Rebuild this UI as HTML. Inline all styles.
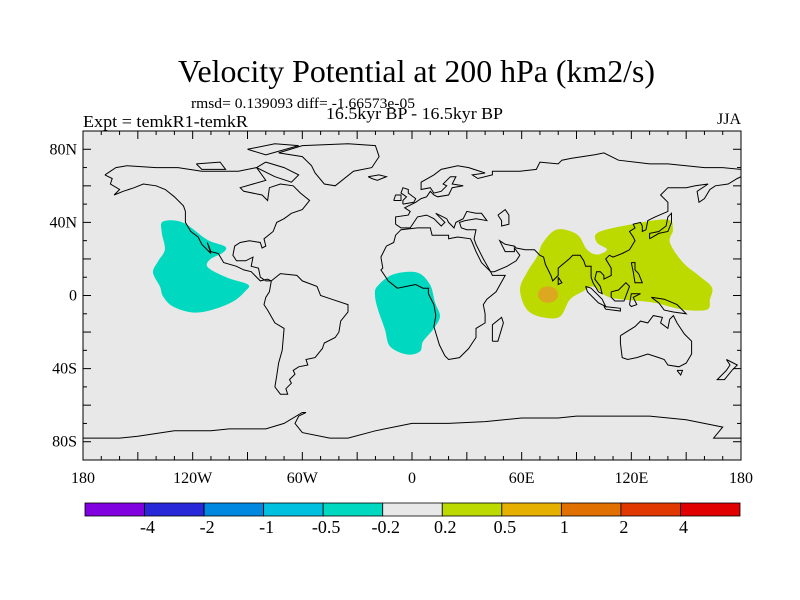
<!DOCTYPE html>
<html><head><meta charset="utf-8"><style>
body{margin:0;background:#fff;}
svg{display:block;font-family:"Liberation Serif",serif;}
</style></head><body>
<svg id="chart" width="800" height="600" viewBox="0 0 800 600">
<text x="178" y="82" font-size="32" textLength="477" lengthAdjust="spacingAndGlyphs">Velocity Potential at 200 hPa (km2/s)</text>
<text x="191" y="108" font-size="15" textLength="224" lengthAdjust="spacingAndGlyphs">rmsd= 0.139093 diff= -1.66573e-05</text>
<text x="326" y="119" font-size="17" textLength="177" lengthAdjust="spacingAndGlyphs">16.5kyr BP - 16.5kyr BP</text>
<text x="83" y="127" font-size="17" textLength="165" lengthAdjust="spacingAndGlyphs">Expt = temkR1-temkR</text>
<text x="741" y="124" font-size="16" text-anchor="end">JJA</text>
<rect x="83" y="131" width="658" height="329" fill="#e8e8e8"/>
<g id="fields"></g>
<g id="coast" fill="none" stroke="#000" stroke-width="1"></g>
<rect x="83" y="131" width="658" height="329" fill="none" stroke="#000" stroke-width="1"/>
<g id="ticks" stroke="#000" stroke-width="1"></g>
<g id="labels" font-size="16"></g>
<g id="colorbar"></g>
</svg>
<script>
const lonTicks=[-180,-120,-60,0,60,120,180];
const lonTickLabels=["180","120W","60W","0","60E","120E","180"];
const latTicks=[80,40,0,-40,-80];
const latTickLabels=["80N","40N","0","40S","80S"];
const levels=["-4","-2","-1","-0.5","-0.2","0.2","0.5","1","2","4"];
const levelColors=["#8000e0","#2828d8","#0088e0","#00c0e0","#00d9bf","#e8e8e8","#bcd900","#e6b000","#e07000","#e03800","#e00000"];
const pacificLon=[-136.2,-125.3,-112.1,-102.3,-103.4,-110.5,-111.6,-101.2,-89.7,-91.4,-97.9,-108.9,-119.8,-130.8,-136.2,-137.9,-141.7,-139,-135.2,-136.9];
const pacificLat=[40.5,39.9,30.6,26.8,23.5,19.7,15.3,9.8,6.0,2.2,-3.3,-7.7,-9.3,-6.0,-0.5,4.9,12.6,18.6,25.2,34.5];
const africaLon=[-19.1,-10.4,2.7,9.8,12.6,15.3,11.5,6.0,4.4,-2.7,-12.0,-14.8,-18.6,-20.2];
const africaLat=[4.9,11.5,12.6,6.0,-3.8,-11.5,-18.6,-25.2,-30.6,-32.3,-27.9,-18.6,-7.7,-0.5];
const asiaLon=[71.7,79.3,90.3,95.7,101.2,106.7,101.2,101.8,119.3,139.5,142.8,141.1,148.2,157.5,164.1,163.0,161.4,148.2,131.8,115.4,106.7,99.0,93.5,86.4,81.0,71.7,62.9,59.1,62.9,68.4];
const asiaLat=[29.0,36.1,33.4,25.2,22.4,25.2,29.0,34.5,38.8,41.6,36.1,29.0,18.1,10.4,4.4,-2.2,-7.7,-7.7,-3.8,-2.2,-0.5,4.9,2.2,-2.2,-11.5,-12.0,-7.7,3.3,12.6,21.3];
const maxCenter=[74.4,0.5];
const maxRadius=[5.5,4.5];

const X0=83,X1=741,Y0=131,Y1=460;
const px=lon=>X0+(lon+180)/360*(X1-X0);
const py=lat=>Y0+(90-lat)/180*(Y1-Y0);
const NS="http://www.w3.org/2000/svg";
function mk(tag,attrs,parent){const e=document.createElementNS(NS,tag);for(const k in attrs)e.setAttribute(k,attrs[k]);parent.appendChild(e);return e;}
function smooth(lons,lats){
  const p=lons.map((l,i)=>[px(l),py(lats[i])]);const n=p.length;let d=`M${p[0][0]},${p[0][1]}`;
  for(let i=0;i<n;i++){const a=p[(i-1+n)%n],b=p[i],c=p[(i+1)%n],e=p[(i+2)%n];
    d+=`C${b[0]+(c[0]-a[0])/6},${b[1]+(c[1]-a[1])/6} ${c[0]-(e[0]-b[0])/6},${c[1]-(e[1]-b[1])/6} ${c[0]},${c[1]}`;}
  return d+"Z";}
const fields=document.getElementById('fields');
let f=mk('path',{d:smooth(pacificLon,pacificLat),fill:levelColors[4]},fields);


f=mk('path',{d:smooth(africaLon,africaLat),fill:levelColors[4]},fields);


f=mk('path',{d:smooth(asiaLon,asiaLat),fill:levelColors[6]},fields);


f=mk('ellipse',{cx:px(maxCenter[0]),cy:py(maxCenter[1]),rx:maxRadius[0]*1.828,ry:maxRadius[1]*1.828,fill:"#dca820"},fields);



const coasts={
"north-america":[[-168,66],[-162,70],[-156,71],[-140,70],[-128,70],[-115,68],[-95,68],[-85,70],[-80,63],[-94,59],[-92,57],[-82,55],[-79,52],[-78,59],[-72,61],[-65,60],[-61,56],[-56,52],[-60,47],[-66,45],[-70,42],[-74,40],[-76,35],[-81,31],[-80,27],[-82,26],[-83,29],[-89,30],[-94,29],[-97,27],[-98,22],[-96,19],[-91,19],[-87,21],[-88,16],[-84,15],[-83,10],[-80,8],[-77,8],[-79,9],[-83,8],[-86,11],[-88,13],[-92,14],[-96,16],[-103,18],[-106,23],[-110,24],[-112,29],[-110,23],[-115,28],[-117,32],[-121,35],[-124,40],[-124,46],[-125,49],[-130,54],[-135,58],[-140,60],[-147,61],[-152,59],[-158,57],[-163,55],[-160,58],[-165,61],[-164,64],[-168,66]],
"greenland":[[-73,78],[-60,82],[-35,83],[-20,82],[-18,76],[-22,70],[-32,68],[-42,60],[-48,61],[-53,67],[-55,71],[-60,76],[-73,78]],
"baffin":[[-80,73],[-70,70],[-62,66],[-66,62],[-75,65],[-85,70],[-80,73]],
"ellesmere":[[-90,80],[-75,83],[-62,82],[-80,77],[-90,80]],
"victoria":[[-118,72],[-105,73],[-102,69],[-115,69],[-118,72]],
"south-america":[[-77,8],[-72,12],[-63,11],[-60,8],[-52,5],[-50,0],[-44,-2],[-35,-5],[-35,-9],[-39,-14],[-40,-20],[-42,-23],[-48,-26],[-49,-29],[-53,-34],[-58,-35],[-57,-38],[-62,-39],[-65,-41],[-64,-43],[-67,-46],[-66,-48],[-69,-51],[-68,-54],[-72,-54],[-75,-50],[-74,-44],[-73,-37],[-71,-30],[-70,-18],[-75,-15],[-79,-8],[-81,-5],[-80,-1],[-78,2],[-77,8]],
"africa":[[-17,21],[-16,15],[-17,14],[-15,11],[-13,8],[-8,4],[-3,5],[2,6],[6,4],[9,4],[9,1],[12,-5],[13,-11],[12,-17],[15,-27],[18,-33],[20,-35],[26,-34],[31,-29],[33,-26],[35,-23],[35,-18],[40,-15],[40,-10],[39,-5],[41,-2],[46,2],[51,11],[44,11],[43,13],[38,18],[35,24],[33,29],[32,31],[25,32],[20,31],[20,33],[11,33],[10,37],[3,37],[-6,36],[-9,33],[-10,29],[-14,27],[-17,21]],
"madagascar":[[44,-25],[47,-25],[50,-15],[49,-12],[44,-16],[44,-25]],
"eurasia":[[-9,39],[-9,43],[-2,44],[-1,46],[-4,48],[2,51],[5,53],[8,54],[10,57],[12,55],[14,54],[20,55],[22,59],[28,60],[22,61],[24,65],[21,65],[17,61],[19,60],[16,57],[12,56],[10,59],[5,58],[5,62],[12,66],[16,69],[25,71],[31,70],[40,67],[33,66],[36,64],[44,66],[44,68],[53,68],[59,68],[68,69],[70,73],[80,72],[82,74],[87,75],[100,77],[105,78],[113,74],[130,72],[140,72],[150,71],[160,70],[170,70],[180,69],[180,65],[178,64],[173,61],[166,60],[163,58],[160,53],[157,51],[156,57],[162,61],[155,60],[150,59],[140,59],[136,55],[140,51],[140,46],[133,43],[129,41],[128,36],[126,35],[126,38],[125,40],[121,39],[122,37],[119,35],[121,32],[122,30],[119,25],[115,23],[110,21],[108,22],[106,20],[109,15],[109,11],[105,9],[105,11],[103,13],[101,13],[100,9],[103,5],[104,1],[102,2],[99,7],[98,10],[98,16],[95,16],[94,19],[92,22],[88,22],[86,20],[80,15],[80,11],[77,8],[76,11],[73,17],[72,21],[70,22],[67,25],[62,25],[57,26],[56,27],[51,28],[48,30],[50,26],[51,24],[56,24],[56,26],[59,22],[57,19],[52,16],[45,13],[43,13],[39,20],[35,28],[34,31],[35,36],[30,36],[27,37],[26,40],[29,41],[35,42],[41,41],[38,45],[35,45],[30,46],[28,42],[24,40],[23,37],[20,40],[19,42],[13,45],[16,42],[18,40],[16,38],[12,42],[8,44],[3,43],[-1,37],[-6,37],[-9,39]],
"caspian":[[47,44],[51,47],[53,44],[53,39],[49,38],[49,41],[47,44]],
"britain":[[-5,50],[1,51],[2,53],[-2,56],[-2,58],[-5,59],[-6,56],[-3,54],[-5,52],[-5,50]],
"ireland":[[-10,52],[-6,52],[-6,55],[-9,55],[-10,52]],
"iceland":[[-24,65],[-18,66],[-14,65],[-19,63],[-22,64],[-24,65]],
"japan":[[130,31],[135,34],[140,35],[142,40],[142,45],[140,43],[139,38],[135,35],[130,34],[130,31]],
"sumatra":[[95,5],[98,4],[104,-2],[106,-6],[102,-4],[96,2],[95,5]],
"borneo":[[109,2],[113,3],[117,7],[119,5],[116,-3],[111,-3],[109,-1],[109,2]],
"java":[[105,-6],[114,-7],[114,-8.5],[106,-7.5],[105,-6]],
"sulawesi":[[119,-5],[120,1],[125,1],[121,-1],[123,-5],[120,-6],[119,-5]],
"new-guinea":[[131,-1],[138,-2],[145,-5],[150,-10],[143,-9],[138,-8],[135,-4],[131,-1]],
"philippines":[[120,18],[122,18],[122,14],[124,12],[126,7],[122,7],[121,13],[120,18]],
"sri-lanka":[[80,10],[82,7],[80,6],[80,10]],
"australia":[[114,-22],[114,-26],[115,-34],[118,-35],[123,-34],[129,-32],[135,-34],[138,-35],[140,-38],[146,-39],[150,-37],[153,-32],[153,-25],[149,-21],[145,-15],[143,-11],[141,-13],[140,-18],[136,-15],[137,-12],[132,-11],[129,-15],[125,-14],[122,-17],[114,-22]],
"tasmania":[[145,-41],[148,-41],[147,-43.5],[145,-41]],
"new-zealand":[[172,-35],[178,-38],[175,-41],[171,-46],[167,-46],[172,-41],[174,-38],[172,-35]],
"antarctica":[[-180,-78],[-160,-78],[-150,-77],[-130,-74],[-110,-74],[-100,-73],[-80,-73],[-70,-70],[-60,-64],[-58,-64],[-62,-66],[-64,-70],[-60,-75],[-45,-78],[-35,-78],[-20,-74],[0,-70],[20,-70],[40,-69],[60,-67],[80,-67],[90,-66],[110,-66],[130,-66],[150,-68],[165,-71],[170,-72],[165,-78],[180,-78]]
};
const coast=document.getElementById('coast');
for(const k in coasts){
  const d="M"+coasts[k].map(p=>px(p[0]).toFixed(1)+","+py(p[1]).toFixed(1)).join("L");
  const e=mk('path',{d:d},coast);
  
  
}
const ticks=document.getElementById('ticks');
for(let lon=-180;lon<=180;lon+=10){
  const len=lon%30===0?8:4;
  mk('line',{x1:px(lon),x2:px(lon),y1:Y0,y2:Y0+len},ticks);
  mk('line',{x1:px(lon),x2:px(lon),y1:Y1,y2:Y1-len},ticks);
}
for(let lat=-90;lat<=90;lat+=10){
  const len=lat%20===0?8:4;
  mk('line',{x1:X0,x2:X0+len,y1:py(lat),y2:py(lat)},ticks);
  mk('line',{x1:X1,x2:X1-len,y1:py(lat),y2:py(lat)},ticks);
}
const labels=document.getElementById('labels');
lonTicks.forEach((v,i)=>{const t=mk('text',{x:px(v),y:483,'text-anchor':'middle'},labels);t.textContent=lonTickLabels[i];

});
latTicks.forEach((v,i)=>{const t=mk('text',{x:77,y:py(v)+5,'text-anchor':'end'},labels);t.textContent=latTickLabels[i];

});
const cb=document.getElementById('colorbar');
const CX0=85,CX1=740,CW=(CX1-CX0)/levelColors.length;
levelColors.forEach((c,i)=>{const r=mk('rect',{x:CX0+i*CW,y:503,width:CW,height:13,fill:c,stroke:"#000","stroke-width":0.8},cb);

});
levels.forEach((l,i)=>{const t=mk('text',{x:CX0+(i+1)*CW+3,y:533,'text-anchor':'middle','font-size':18},cb);t.textContent=l;

});
</script>
</body></html>
